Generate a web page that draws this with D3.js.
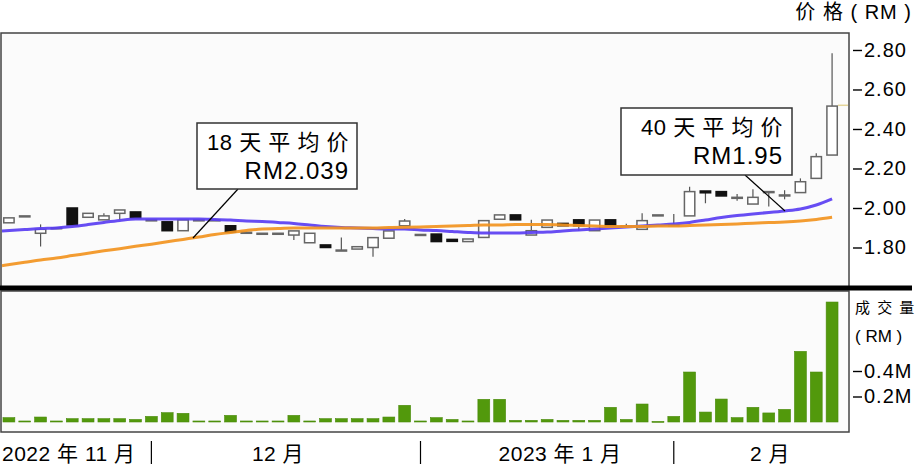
<!DOCTYPE html>
<html>
<head>
<meta charset="utf-8">
<script src="https://cdn.jsdelivr.net/npm/d3@7"></script>
<style>
  body { margin: 0; background: #fff; }
  svg { display: block; font-family: "Liberation Sans", "Noto Sans CJK SC", sans-serif; }
</style>
</head>
<body>
<svg id="chart" width="922" height="464"></svg>
<script>
// daily prices (RM), one entry per trading day
const openP  = [1.925,1.96,1.872,1.90,2.00,1.953,1.94,1.973,1.98,1.94,1.93,1.885,1.94,1.94,1.91,1.877,1.872,1.872,1.863,1.824,1.813,1.787,1.792,1.80,1.847,1.91,1.866,1.868,1.841,1.83,1.851,1.943,1.965,1.863,1.902,1.922,1.94,1.885,1.94,1.909,1.892,1.965,1.915,1.96,2.086,2.083,2.054,2.02,2.083,2.066,2.078,2.15,2.268];
const highP  = [1.95,1.96,1.917,1.90,2.00,1.973,1.973,1.99,1.98,1.94,1.93,1.94,1.94,1.94,1.91,1.877,1.872,1.872,1.884,1.872,1.813,1.85,1.804,1.85,1.884,1.944,1.866,1.868,1.841,1.843,1.936,1.965,1.965,1.94,1.939,1.922,1.94,1.939,1.94,1.92,1.973,1.965,1.97,2.108,2.086,2.083,2.071,2.095,2.083,2.09,2.15,2.277,2.783];
const lowP   = [1.925,1.96,1.805,1.90,1.914,1.953,1.94,1.94,1.95,1.94,1.885,1.885,1.94,1.94,1.877,1.877,1.872,1.872,1.838,1.824,1.80,1.787,1.792,1.753,1.847,1.91,1.866,1.83,1.831,1.83,1.851,1.943,1.94,1.863,1.902,1.91,1.885,1.885,1.91,1.909,1.892,1.965,1.915,1.96,2.024,2.061,2.037,2.02,2.007,2.044,2.078,2.15,2.268];
const closeP = [1.95,1.96,1.892,1.90,1.914,1.973,1.96,1.99,1.95,1.94,1.885,1.94,1.94,1.94,1.877,1.877,1.872,1.872,1.884,1.872,1.80,1.787,1.804,1.85,1.884,1.934,1.866,1.83,1.831,1.843,1.936,1.965,1.94,1.885,1.939,1.91,1.91,1.939,1.91,1.909,1.936,1.965,1.915,2.083,2.077,2.061,2.054,2.054,2.083,2.066,2.133,2.26,2.516];

// moving averages (first value is where each line enters at the left edge)
const ma18 = [1.884,1.891,1.896,1.899,1.906,1.916,1.927,1.937,1.944,1.944,1.944,1.944,1.944,1.942,1.939,1.934,1.932,1.927,1.922,1.914,1.906,1.901,1.899,1.896,1.894,1.894,1.889,1.886,1.881,1.876,1.873,1.873,1.873,1.876,1.878,1.884,1.889,1.894,1.899,1.904,1.909,1.914,1.919,1.927,1.939,1.952,1.962,1.970,1.977,1.985,1.995,2.015,2.046];
const ma40 = [1.708,1.725,1.737,1.747,1.759,1.771,1.783,1.794,1.806,1.817,1.829,1.841,1.853,1.866,1.876,1.886,1.894,1.896,1.899,1.899,1.899,1.899,1.899,1.899,1.901,1.902,1.904,1.906,1.909,1.911,1.914,1.914,1.916,1.916,1.916,1.914,1.911,1.909,1.906,1.906,1.906,1.909,1.909,1.911,1.914,1.916,1.919,1.923,1.926,1.929,1.934,1.942,1.953];

// volume (RM million)
const volume = [0.034,0.008,0.039,0.008,0.026,0.026,0.026,0.026,0.02,0.044,0.073,0.068,0.008,0.008,0.052,0.008,0.008,0.008,0.052,0.008,0.026,0.026,0.026,0.026,0.039,0.131,0.008,0.034,0.02,0.008,0.178,0.178,0.013,0.013,0.02,0.013,0.013,0.013,0.115,0.02,0.141,0.005,0.044,0.392,0.078,0.18,0.034,0.115,0.071,0.099,0.554,0.392,0.941];

const priceTicks = [1.8, 2.0, 2.2, 2.4, 2.6, 2.8];
const volumeTicks = [0.2, 0.4];
const monthStarts = [9, 26, 42];
const monthLabels = ["2022 年 11 月", "12 月", "2023 年 1 月", "2 月"];
const lastPrice = 2.52;

const svg = d3.select("#chart");
const days = d3.range(closeP.length);

const x = d3.scaleBand().domain(days).range([1, 840]).paddingInner(0.25).paddingOuter(0.125);
const cx = i => x(i) + x.bandwidth() / 2;
const yP = d3.scaleLinear().domain([1.6, 2.886]).range([287, 33]);
const yV = d3.scaleLinear().domain([0, 1]).range([422, 294.5]);

// panels
svg.append("rect").attr("x", 1).attr("y", 33).attr("width", 848).attr("height", 254)
    .attr("fill", "#fbfbfb").attr("stroke", "#444").attr("stroke-width", 1.5);
svg.append("rect").attr("x", 1).attr("y", 291).attr("width", 848).attr("height", 141)
    .attr("fill", "#fbfbfb").attr("stroke", "#444").attr("stroke-width", 1.5);
svg.append("line").attr("x1", 0).attr("x2", 912).attr("y1", 288).attr("y2", 288)
    .attr("stroke", "#000").attr("stroke-width", 5);

// candles
const candles = svg.append("g");
days.forEach(i => {
    const up = closeP[i] >= openP[i];
    const top = yP(Math.max(openP[i], closeP[i]));
    const bot = yP(Math.min(openP[i], closeP[i]));
    candles.append("line")
        .attr("x1", cx(i)).attr("x2", cx(i))
        .attr("y1", yP(highP[i])).attr("y2", yP(lowP[i]))
        .attr("stroke", "#555").attr("stroke-width", 1.2);
    candles.append("rect")
        .attr("x", x(i) + 0.75).attr("width", x.bandwidth() - 1.5)
        .attr("y", top).attr("height", Math.max(bot - top, 1))
        .attr("fill", up ? "#fff" : "#111")
        .attr("stroke", up ? "#666" : "#111")
        .attr("stroke-width", 1.5);
});

// last price marker
svg.append("line").attr("x1", x(52) + x.bandwidth()).attr("x2", 848)
    .attr("y1", yP(lastPrice)).attr("y2", yP(lastPrice))
    .attr("stroke", "#e4d59a").attr("stroke-width", 1.5);

// moving average lines, the first point sits on the panel's left edge
const line = d3.line().x((d, i) => i === 0 ? 2 : cx(i)).y(d => yP(d)).curve(d3.curveMonotoneX);
svg.append("path").datum(ma18).attr("d", line)
    .attr("fill", "none").attr("stroke", "#5a3ef2").attr("stroke-width", 3).attr("opacity", 0.92);
svg.append("path").datum(ma40).attr("d", line)
    .attr("fill", "none").attr("stroke", "#f29420").attr("stroke-width", 3).attr("opacity", 0.92);

// volume bars
svg.append("g").selectAll("rect").data(volume).join("rect")
    .attr("x", (d, i) => x(i)).attr("width", x.bandwidth())
    .attr("y", d => yV(d)).attr("height", d => Math.max(yV(0) - yV(d), 1))
    .attr("fill", "#52990c").attr("stroke", "#4a8a0a").attr("stroke-width", 0.6);

// right axes
const priceAxis = svg.append("g").attr("transform", "translate(853,0)")
    .call(d3.axisRight(yP).tickValues(priceTicks).tickSize(9).tickPadding(2).tickFormat(d3.format(".2f")));
const volAxis = svg.append("g").attr("transform", "translate(853,0)")
    .call(d3.axisRight(yV).tickValues(volumeTicks).tickSize(9).tickPadding(2).tickFormat(d => d.toFixed(1) + "M"));
[priceAxis, volAxis].forEach(a => {
    a.select(".domain").remove();
    a.selectAll(".tick line").attr("stroke", "#000").attr("stroke-width", 1.4);
    a.selectAll(".tick text").attr("fill", "#000")
        .style("font-size", "20px").style("letter-spacing", "1px")
        .style("font-family", "'Liberation Sans', sans-serif");
});

svg.append("text").attr("x", 912).attr("y", 19).attr("text-anchor", "end")
    .style("font-size", "20px").style("letter-spacing", "1px").text("价 格 ( RM )");
svg.append("text").attr("x", 855).attr("y", 313)
    .style("font-size", "15px").style("letter-spacing", "1.5px").text("成 交 量");
svg.append("text").attr("x", 855).attr("y", 342)
    .style("font-size", "17px").text("( RM )");

// annotations
const notes = [
    { box: [197, 123, 160, 66], tx: 349, lines: ["18 天 平 均 价", "RM2.039"], ptr: [238, 189, 193, 238] },
    { box: [621, 108, 171, 67], tx: 783, lines: ["40 天 平 均 价", "RM1.95"], ptr: [745, 175, 785, 211] }
];
notes.forEach(n => {
    svg.append("line").attr("x1", n.ptr[0]).attr("y1", n.ptr[1]).attr("x2", n.ptr[2]).attr("y2", n.ptr[3])
        .attr("stroke", "#000").attr("stroke-width", 1.2);
    svg.append("rect").attr("x", n.box[0]).attr("y", n.box[1]).attr("width", n.box[2]).attr("height", n.box[3])
        .attr("fill", "#fff").attr("stroke", "#333").attr("stroke-width", 1.5);
    svg.append("text").attr("x", n.tx).attr("y", n.box[1] + 27).attr("text-anchor", "end")
        .style("font-size", "22px").style("letter-spacing", "0.5px").text(n.lines[0]);
    svg.append("text").attr("x", n.tx).attr("y", n.box[1] + 56).attr("text-anchor", "end")
        .style("font-size", "24px").style("letter-spacing", "1px").text(n.lines[1]);
});

// month dividers and labels
monthStarts.forEach(i => {
    svg.append("line").attr("x1", cx(i)).attr("x2", cx(i)).attr("y1", 441).attr("y2", 464)
        .attr("stroke", "#000").attr("stroke-width", 1.2);
});
const labelPos = [[2, "start"], [278, "middle"], [560, "middle"], [770, "middle"]];
monthLabels.forEach((t, k) => {
    svg.append("text").attr("x", labelPos[k][0]).attr("y", 461).attr("text-anchor", labelPos[k][1])
        .style("font-size", "21px").style("letter-spacing", "0.5px").text(t);
});
</script>
</body>
</html>
